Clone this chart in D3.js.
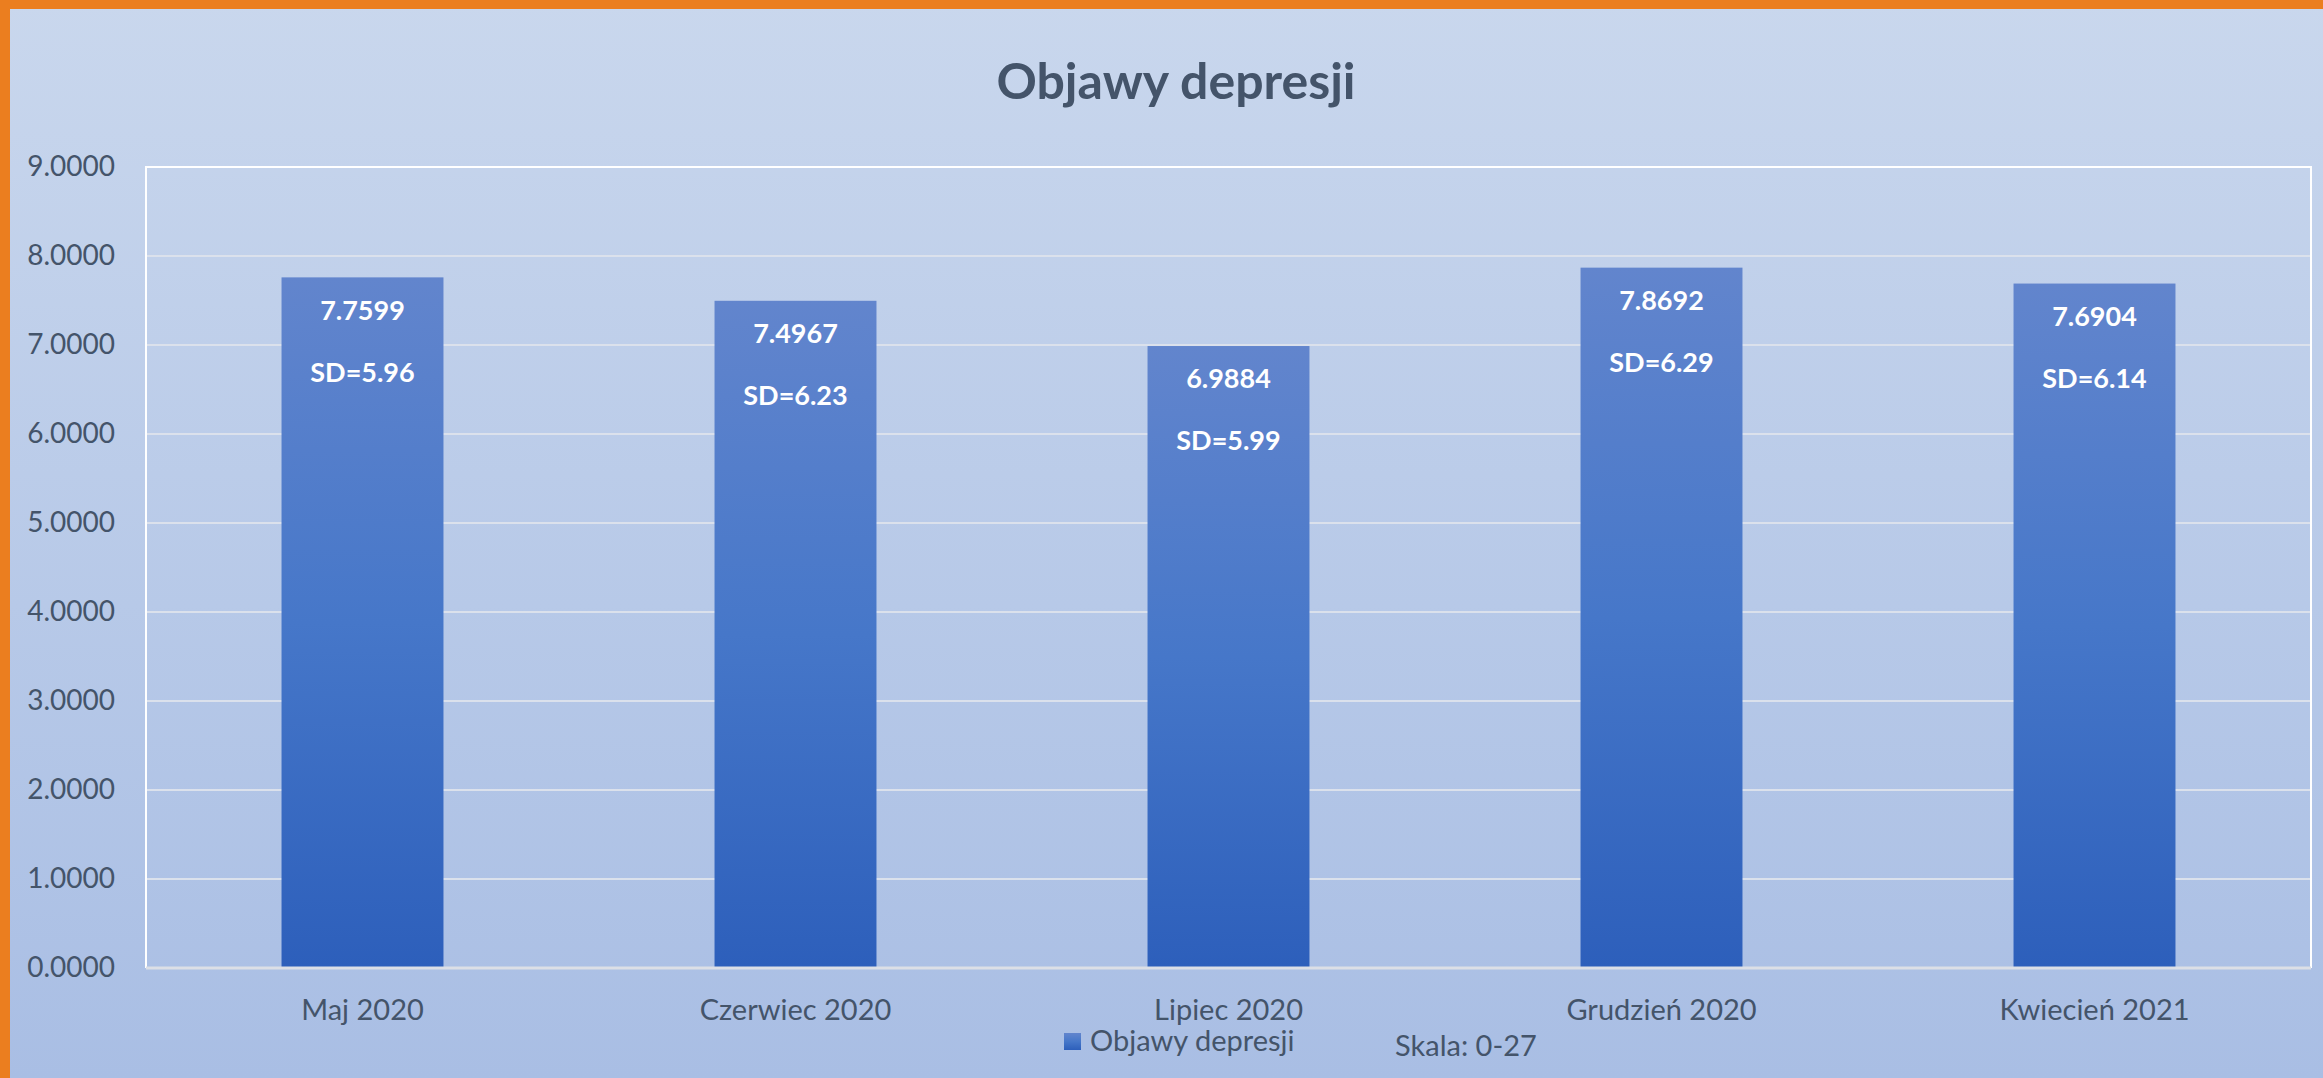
<!DOCTYPE html>
<html>
<head>
<meta charset="utf-8">
<script src="https://cdn.jsdelivr.net/npm/d3@7"></script>
<style>
  html, body { margin: 0; padding: 0; overflow: hidden; }
  svg { display: block; font-family: Lato, "Open Sans", sans-serif; }
</style>
</head>
<body>
<svg width="2323" height="1078"></svg>
<script>
// data
var months = ["Maj 2020", "Czerwiec 2020", "Lipiec 2020", "Grudzień 2020", "Kwiecień 2021"];
var means = [7.7599, 7.4967, 6.9884, 7.8692, 7.6904];
var sds = ["5.96", "6.23", "5.99", "6.29", "6.14"];
var yTicks = [0, 1, 2, 3, 4, 5, 6, 7, 8, 9];

var svg = d3.select("svg"),
  width = +svg.attr("width"),
  height = +svg.attr("height");

var plot = { left: 146, right: 2311, top: 167, bottom: 968 };
var textColor = "#44546a";

var defs = svg.append("defs");

// slide background
var bg = defs.append("linearGradient").attr("id", "bg")
  .attr("x1", 0).attr("y1", 0).attr("x2", 0).attr("y2", 1);
bg.append("stop").attr("offset", "0%").attr("stop-color", "#c9d7ed");
bg.append("stop").attr("offset", "100%").attr("stop-color", "#a9bee4");

// bar fill
var barGrad = defs.append("linearGradient").attr("id", "barGrad")
  .attr("x1", 0).attr("y1", 0).attr("x2", 0).attr("y2", 1);
barGrad.append("stop").attr("offset", "0%").attr("stop-color", "#6285cd");
barGrad.append("stop").attr("offset", "50%").attr("stop-color", "#4677c9");
barGrad.append("stop").attr("offset", "100%").attr("stop-color", "#2d5fbb");

svg.append("rect")
  .attr("width", width).attr("height", height)
  .attr("fill", "url(#bg)");

// orange frame on top and left
svg.append("rect").attr("x", 0).attr("y", 0).attr("width", width).attr("height", 9).attr("fill", "#eb7e1f");
svg.append("rect").attr("x", 0).attr("y", 0).attr("width", 10).attr("height", height).attr("fill", "#eb7e1f");

var x = d3.scaleBand()
  .domain(months)
  .range([plot.left, plot.right])
  .paddingInner(0.626)
  .paddingOuter(0.313);

var y = d3.scaleLinear()
  .domain([0, 9])
  .range([plot.bottom, plot.top]);

// gridlines
svg.append("g")
  .selectAll("line")
  .data(yTicks.filter(function (d) { return d > 0 && d < 9; }))
  .enter()
  .append("line")
  .attr("x1", plot.left).attr("x2", plot.right)
  .attr("y1", function (d) { return y(d); })
  .attr("y2", function (d) { return y(d); })
  .attr("stroke", "#dbe1ec")
  .attr("stroke-width", 2);

// plot border (white on top/left/right)
svg.append("path")
  .attr("d", "M" + plot.left + "," + plot.bottom + "V" + plot.top + "H" + plot.right + "V" + plot.bottom)
  .attr("fill", "none")
  .attr("stroke", "#ffffff")
  .attr("stroke-width", 2);

// bars
svg.append("g")
  .selectAll("rect")
  .data(means)
  .enter()
  .append("rect")
  .attr("x", function (d, i) { return x(months[i]); })
  .attr("y", function (d) { return y(d); })
  .attr("width", x.bandwidth())
  .attr("height", function (d) { return y(0) - y(d); })
  .attr("fill", "url(#barGrad)");

// category axis line
svg.append("line")
  .attr("x1", plot.left).attr("x2", plot.right)
  .attr("y1", plot.bottom).attr("y2", plot.bottom)
  .attr("stroke", "#dcdfe6")
  .attr("stroke-width", 3);

// y axis
var yAxis = svg.append("g")
  .attr("transform", "translate(" + (plot.left - 31) + ",0)")
  .call(d3.axisLeft(y).tickValues(yTicks).tickFormat(d3.format(".4f")).tickSize(0).tickPadding(0));
yAxis.select(".domain").remove();
yAxis.selectAll("text")
  .attr("fill", textColor)
  .style("font-size", "28px")
  .style("font-family", "Lato, sans-serif");

// x axis labels
var xAxis = svg.append("g")
  .attr("transform", "translate(0," + plot.bottom + ")")
  .call(d3.axisBottom(x).tickSize(0).tickPadding(31));
xAxis.select(".domain").remove();
xAxis.selectAll("text")
  .attr("fill", textColor)
  .style("font-size", "29px")
  .style("font-family", "Lato, sans-serif");

// data labels
var labels = svg.append("g")
  .attr("fill", "#ffffff")
  .attr("font-weight", "bold")
  .attr("font-size", 27)
  .attr("text-anchor", "middle");

labels.selectAll("text.mean")
  .data(means)
  .enter()
  .append("text")
  .attr("class", "mean")
  .attr("x", function (d, i) { return x(months[i]) + x.bandwidth() / 2; })
  .attr("y", function (d) { return y(d) + 33; })
  .attr("dy", "0.35em")
  .text(function (d) { return d3.format(".4f")(d); });

labels.selectAll("text.sd")
  .data(means)
  .enter()
  .append("text")
  .attr("class", "sd")
  .attr("x", function (d, i) { return x(months[i]) + x.bandwidth() / 2; })
  .attr("y", function (d) { return y(d) + 95; })
  .attr("dy", "0.35em")
  .text(function (d, i) { return "SD=" + sds[i]; });

// title
svg.append("text")
  .attr("x", 1176)
  .attr("y", 99)
  .attr("text-anchor", "middle")
  .attr("fill", textColor)
  .attr("font-weight", "bold")
  .attr("font-size", 50)
  .text("Objawy depresji");

// legend
var legend = svg.append("g").attr("transform", "translate(1064,1041)");
legend.append("rect")
  .attr("x", 0).attr("y", -8)
  .attr("width", 17).attr("height", 17)
  .attr("fill", "url(#barGrad)");
legend.append("text")
  .attr("x", 26).attr("y", 0)
  .attr("dy", "0.35em")
  .attr("fill", textColor)
  .attr("font-size", 29)
  .text("Objawy depresji");

// scale note
svg.append("text")
  .attr("x", 1395).attr("y", 1046)
  .attr("dy", "0.35em")
  .attr("fill", textColor)
  .attr("font-size", 29)
  .text("Skala: 0-27");
</script>
</body>
</html>
